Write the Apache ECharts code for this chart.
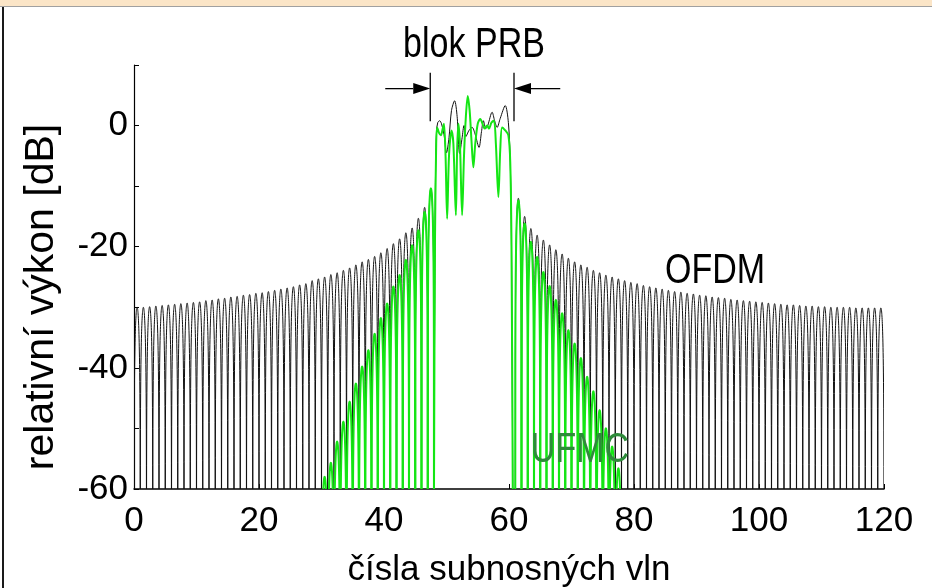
<!DOCTYPE html>
<html><head><meta charset="utf-8">
<script src="https://cdn.jsdelivr.net/npm/echarts@6/dist/echarts.min.js"></script>
<style>
html,body{margin:0;padding:0;background:#fff;}
#wrap{position:relative;width:932px;height:588px;overflow:hidden;background:#fff;}
#chart{position:absolute;left:0;top:0;width:932px;height:588px;}
#band{position:absolute;left:0;top:0;width:932px;height:6px;background:#fbe5c7;border-bottom:1px solid #a0a0a0;}
#lborder{position:absolute;left:2px;top:7px;width:2px;height:581px;background:#1a1a1a;}
</style></head><body>
<div id="wrap"><div id="chart"></div><div id="band"></div><div id="lborder"></div></div>
<script>
// ---- data ----
const xTickValues = [0, 20, 40, 60, 80, 100, 120];
const yLabelValues = [0, -20, -40, -60];

// OFDM side-lobe peak levels [dB], one per subcarrier lobe
const ofdmLeftStart = 0;
const ofdmLeftPeaks = [-30.0,-30.0,-29.9,-29.8,-29.7,-29.6,-29.5,-29.4,-29.3,-29.2,
  -29.1,-28.9,-28.8,-28.6,-28.5,-28.3,-28.2,-28.0,-27.9,-27.7,
  -27.6,-27.4,-27.2,-27.0,-26.8,-26.6,-26.3,-26.1,-25.6,-25.3,
  -25.0,-24.6,-24.3,-23.9,-23.5,-23.0,-22.5,-22.1,-21.6,-21.0,
  -20.3,-19.5,-18.7,-17.7,-16.9,-15.3,-13.5,-10.4];
const ofdmRightStart = 61;
const ofdmRightPeaks = [-12.0,-15.0,-17.0,-18.1,-18.9,-19.7,-20.5,-21.2,-21.9,-22.5,
  -23.0,-23.4,-23.9,-24.3,-24.7,-25.0,-25.3,-25.6,-25.9,-26.1,
  -26.4,-26.6,-26.8,-27.0,-27.2,-27.4,-27.5,-27.7,-27.8,-28.0,
  -28.1,-28.3,-28.4,-28.5,-28.7,-28.8,-28.9,-29.0,-29.1,-29.2,
  -29.3,-29.4,-29.5,-29.6,-29.6,-29.7,-29.8,-29.8,-29.9,-29.9,
  -30.0,-30.0,-30.0,-30.0,-30.1,-30.1,-30.1,-30.1,-30.1];

// UFMC side-lobe peak levels [dB]
const ufmcLeftStart = 30;
const ufmcLeftPeaks = [-58.0,-55.7,-52.2,-48.9,-45.6,-42.6,-39.8,-37.1,-34.4,-31.8,
  -29.4,-26.6,-24.7,-22.2,-19.8,-17.3,-14.3,-10.4];
const ufmcRightStart = 61;
const ufmcRightPeaks = [-12.4,-16.2,-19.2,-21.7,-24.2,-26.5,-28.8,-31.0,-33.8,-36.0,
  -38.4,-41.5,-43.9,-47.0,-50.0,-53.0,-56.6];

// in-band (PRB) traces
const ofdmBandX = [48.0,48.2,48.4,48.6,48.9,49.2,49.6,50.0,50.4,50.8,51.3,51.7,52.1,52.5,52.8,53.1,53.6,54.1,54.6,55.2,55.6,55.9,56.3,56.6,57.3,57.7,58.1,58.6,59.4,59.9,60.2,60.4,60.6];
const ofdmBandY = [-60,-12,-1,0.5,0.8,0.3,-1.5,-4.5,-2,2.5,4.1,1.5,-4.6,-2.0,0.0,-1.8,-0.8,-0.3,-1.5,-3.6,-1.0,0.8,-0.5,0.0,2.2,0.8,-0.3,1.2,3.3,0.5,-6,-20,-60];
const ufmcBandX = [48.0,48.15,48.35,48.5,48.8,49.1,49.4,49.6,49.85,50.1,50.4,50.8,51.1,51.5,51.7,51.9,52.15,52.5,52.8,53.1,53.4,53.7,54.0,54.3,54.6,55.0,55.4,55.8,56.1,56.5,56.8,57.2,57.6,57.9,58.3,58.6,58.9,59.4,59.9,60.2,60.4,60.6];
const ufmcBandY = [-60,-20,-3,-0.3,-1.2,-1.6,-0.5,0.3,-5,-15.4,-5,-0.8,-3,-14.8,-4,0.3,-3,-14.8,-5,1.5,4.9,2.5,-2.5,-6.9,-3,0.3,1.1,0.2,-0.5,0.0,-0.5,0.5,0.8,-3,-11.8,-4,-0.3,-0.8,-1.6,-6,-20,-60];

// PRB annotation (data coordinates)
const prbEdgeX = [47.4, 60.8];
const prbArrowOuterX = [40.2, 68.2];
const prbArrowY = 6.1;
const prbTickY = [0.7, 8.7];

// ---- build ----
const FONT = "'Liberation Sans', Arial, sans-serif";
const TS = 35;
const lobes = (start, peaks) => peaks.map((p, i) => [start + i, p]);
const pairs = (xs, ys) => xs.map((x, i) => [x, ys[i]]);

function lobeRenderer(color, width) {
  return function (params, api) {
    const k = api.value(0), peak = api.value(1);
    const pts = [];
    const N = 64;
    for (let i = 0; i <= N; i++) {
      const t = i / N;
      const s = Math.abs(Math.sin(Math.PI * t));
      let v = peak + 20 * Math.log10(Math.max(s, 1e-5));
      if (v < -75) v = -75;
      pts.push(api.coord([k + t, v]));
    }
    return { type: 'polyline', shape: { points: pts }, style: { stroke: color, lineWidth: width, fill: null } };
  };
}

const OFDM_C = '#111111', UFMC_C = '#14e614';

const chart = echarts.init(document.getElementById('chart'), null, { renderer: 'canvas' });
chart.setOption({
  animation: false,
  backgroundColor: 'transparent',
  grid: { left: 134, right: 48, top: 65, bottom: 99, containLabel: false, outerBoundsMode: 'none' },
  xAxis: {
    type: 'value', min: 0, max: 120, interval: 20,
    name: 'čísla subnosných vln', nameLocation: 'middle', nameGap: 64,
    nameTextStyle: { fontSize: TS, color: '#000', fontFamily: FONT },
    axisLine: { show: true, onZero: false, lineStyle: { color: '#000', width: 1.5 } },
    axisTick: { show: true, inside: true, length: 5, lineStyle: { color: '#000' } },
    axisLabel: { fontSize: TS, color: '#000', fontFamily: FONT, margin: 15,
      formatter: v => xTickValues.includes(v) ? String(v) : '' },
    splitLine: { show: false }
  },
  yAxis: {
    type: 'value', min: -60, max: 10, interval: 10,
    name: 'relativní výkon [dB]', nameLocation: 'middle', nameGap: 72, nameRotate: 90,
    nameTextStyle: { fontSize: 41, color: '#000', fontFamily: FONT, padding: [0, 40, 0, 0] },
    axisLine: { show: true, onZero: false, lineStyle: { color: '#000', width: 1.2 } },
    axisTick: { show: true, inside: true, length: 5, lineStyle: { color: '#000' } },
    axisLabel: { fontSize: TS, color: '#000', fontFamily: FONT, margin: 6,
      formatter: v => yLabelValues.includes(v) ? String(v) : '' },
    splitLine: { show: false }
  },
  series: [
    { type: 'custom', name: 'OFDM L', clip: true, z: 2, encode: { x: 0, y: 1 },
      renderItem: lobeRenderer(OFDM_C, 1), data: lobes(ofdmLeftStart, ofdmLeftPeaks) },
    { type: 'custom', name: 'OFDM R', clip: true, z: 2, encode: { x: 0, y: 1 },
      renderItem: lobeRenderer(OFDM_C, 1), data: lobes(ofdmRightStart, ofdmRightPeaks) },
    { type: 'line', name: 'OFDM band', z: 2, showSymbol: false, smooth: 0.3, clip: true,
      lineStyle: { color: OFDM_C, width: 1 }, data: pairs(ofdmBandX, ofdmBandY) },
    { type: 'custom', name: 'UFMC L', clip: true, z: 3, encode: { x: 0, y: 1 },
      renderItem: lobeRenderer(UFMC_C, 2), data: lobes(ufmcLeftStart, ufmcLeftPeaks) },
    { type: 'custom', name: 'UFMC R', clip: true, z: 3, encode: { x: 0, y: 1 },
      renderItem: lobeRenderer(UFMC_C, 2), data: lobes(ufmcRightStart, ufmcRightPeaks) },
    { type: 'line', name: 'UFMC band', z: 3, showSymbol: false, smooth: 0.3, clip: true,
      lineStyle: { color: UFMC_C, width: 2 }, data: pairs(ufmcBandX, ufmcBandY) },
    { type: 'custom', name: 'PRB', clip: false, z: 5, encode: { x: 0, y: 1 },
      data: prbEdgeX.map((e, i) => [e, prbArrowY, prbArrowOuterX[i]]),
      renderItem: function (params, api) {
        const edge = api.value(0), y = api.value(1), outer = api.value(2);
        const top = api.coord([edge, prbTickY[1]]);
        const bot = api.coord([edge, prbTickY[0]]);
        const tip = api.coord([edge, y]);
        const start = api.coord([outer, y]);
        const dir = Math.sign(tip[0] - start[0]);
        const L = 17, H = 5.5;
        return { type: 'group', children: [
          { type: 'line', shape: { x1: top[0], y1: top[1], x2: bot[0], y2: bot[1] }, style: { stroke: '#000', lineWidth: 1.3 } },
          { type: 'line', shape: { x1: start[0], y1: start[1], x2: tip[0] - dir * L, y2: tip[1] }, style: { stroke: '#000', lineWidth: 1.3 } },
          { type: 'polygon', shape: { points: [[tip[0], tip[1]], [tip[0] - dir * L, tip[1] - H], [tip[0] - dir * L, tip[1] + H]] }, style: { fill: '#000' } }
        ] };
      }
    }
  ],
  graphic: [
    { type: 'text', x: 474, y: 45, z: 100, scaleX: 0.81, style: { text: 'blok PRB', fontSize: 42, fontFamily: FONT, fill: '#000', textAlign: 'center', textVerticalAlign: 'middle' } },
    { type: 'text', x: 715, y: 271, z: 100, scaleX: 0.81, style: { text: 'OFDM', fontSize: 42, fontFamily: FONT, fill: '#000', textAlign: 'center', textVerticalAlign: 'middle' } },
    { type: 'text', x: 580, y: 450, z: 100, scaleX: 0.81, style: { text: 'UFMC', fontSize: 42, fontFamily: FONT, fill: '#2e8b3a', textAlign: 'center', textVerticalAlign: 'middle' } }
  ]
});
</script>
</body></html>
